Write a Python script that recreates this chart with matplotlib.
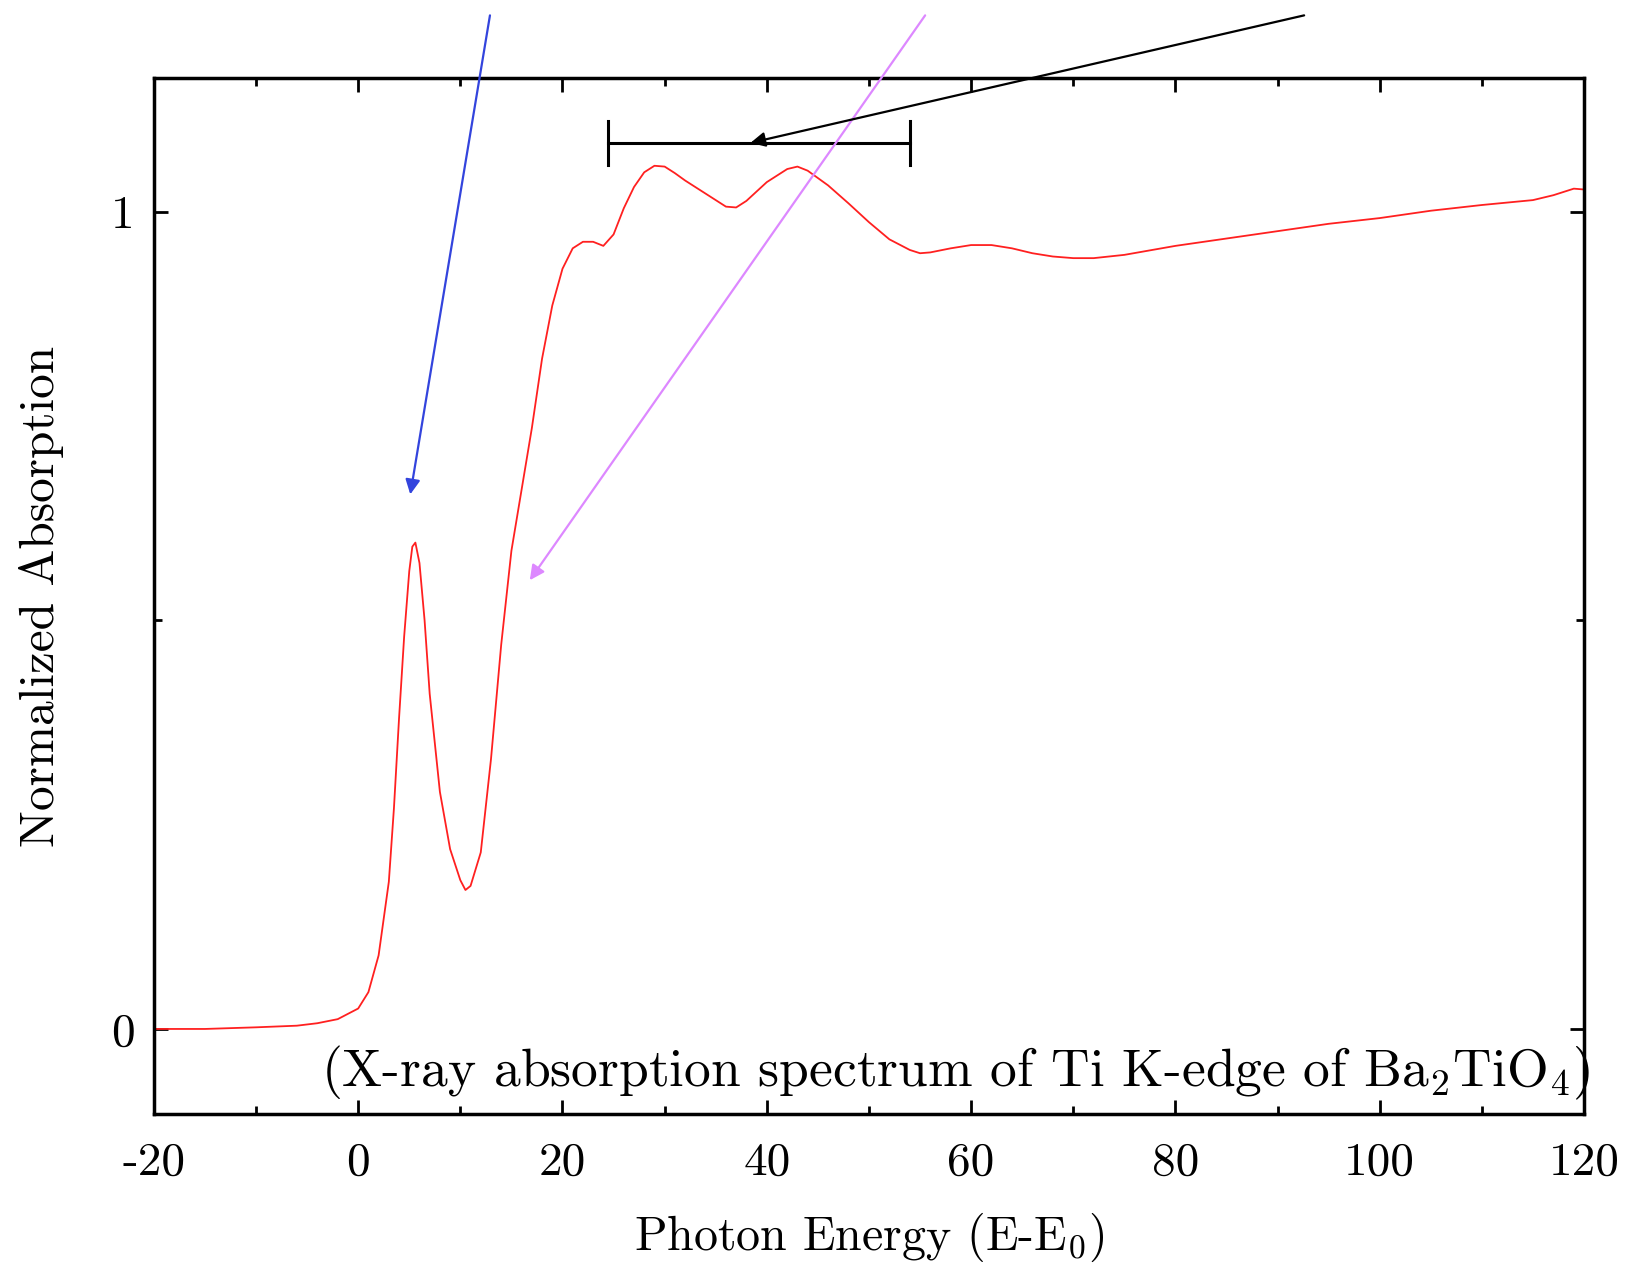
import numpy as np
import matplotlib
matplotlib.use("Agg")
import matplotlib.pyplot as plt
from matplotlib.ticker import MultipleLocator, FuncFormatter

plt.rcParams['font.family'] = ['cmr10', 'DejaVu Serif']
plt.rcParams['mathtext.fontset'] = 'cm'
plt.rcParams['axes.unicode_minus'] = False

# Ti K-edge XANES of Ba2TiO4
energy = [-20, -15, -10, -6, -4, -2, 0, 1, 2, 3, 3.5, 4.0, 4.5, 5.0, 5.3, 5.6,
          6.0, 6.5, 7, 8, 9, 10, 10.5, 11, 12, 13, 14, 15, 16, 17, 18, 19, 20,
          21, 22, 23, 24, 25, 26, 27, 28, 29, 30, 31, 32, 34, 36, 37, 38, 40,
          42, 43, 44, 46, 48, 50, 52, 54, 55, 56, 58, 60, 62, 64, 66, 68,
          70, 72, 75, 80, 85, 90, 95, 100, 105, 110, 115, 117, 119, 120]
absorb = [0.0, 0.0, 0.002, 0.004, 0.007, 0.012, 0.025, 0.045, 0.09, 0.18,
          0.27, 0.38, 0.48, 0.56, 0.590, 0.595, 0.57, 0.50, 0.41, 0.29, 0.22,
          0.182, 0.170, 0.175, 0.216, 0.33, 0.47, 0.585, 0.66, 0.735, 0.82,
          0.885, 0.930, 0.955, 0.963, 0.963, 0.958, 0.972, 1.004, 1.03, 1.048,
          1.056, 1.055, 1.047, 1.038, 1.022, 1.006, 1.005, 1.013, 1.036, 1.052,
          1.055, 1.05, 1.032, 1.01, 0.987, 0.966, 0.953, 0.949, 0.95, 0.955,
          0.959, 0.959, 0.955, 0.949, 0.945, 0.943, 0.943, 0.947, 0.958,
          0.967, 0.976, 0.985, 0.992, 1.001, 1.008, 1.014, 1.02, 1.028, 1.027]

# EXAFS range bar
bar_x = [24.5, 54.0]
bar_y = 1.084

# annotation arrows: (tail, head, colour)
arrows = [((12.9, 1.24), (5.1, 0.654), '#3344dd'),
          ((55.5, 1.24), (16.8, 0.549), '#dd88ff'),
          ((92.6, 1.24), (38.4, 1.084), 'black')]

fig = plt.figure(figsize=(16.3, 12.63), dpi=100)
ax = fig.add_axes([0.0944, 0.118, 0.8774, 0.820])

ax.plot(energy, absorb, color='#ff2020', lw=1.3)

ax.plot(bar_x, [bar_y, bar_y], color='black', lw=2.2)
for bx in bar_x:
    ax.plot([bx, bx], [bar_y - 0.027, bar_y + 0.027], color='black', lw=2.2)

for tail, head, col in arrows:
    ax.annotate('', xy=head, xytext=tail, annotation_clip=False,
                arrowprops=dict(arrowstyle='-|>', color=col, lw=1.6,
                                mutation_scale=22, shrinkA=0, shrinkB=0))

ax.text(120.6, -0.07, r'(X-ray absorption spectrum of Ti K-edge of Ba$_2$TiO$_4$)',
        fontsize=38.5, ha='right', va='baseline', clip_on=False)

ax.set_xlim(-20, 120)
ax.set_ylim(-0.104, 1.163)
ax.xaxis.set_major_locator(MultipleLocator(20))
ax.xaxis.set_minor_locator(MultipleLocator(10))
ax.xaxis.set_major_formatter(FuncFormatter(lambda v, p: '%d' % round(v)))
ax.set_yticks([0, 1])
ax.set_yticklabels(['0', '1'])
ax.yaxis.set_minor_locator(MultipleLocator(0.5))
ax.tick_params(which='both', direction='in', top=True, right=True,
               labelsize=34, width=2)
ax.tick_params(which='major', length=10)
ax.tick_params(axis='x', which='major', pad=20)
ax.tick_params(axis='y', which='major', pad=14)
ax.tick_params(which='minor', length=6)
for sp in ax.spines.values():
    sp.set_linewidth(2.5)

ax.set_xlabel(r'Photon Energy (E-E$_0$)', fontsize=34.5, labelpad=20)
ax.set_ylabel('Normalized Absorption', fontsize=35.5, labelpad=34)

fig.savefig('out.png', dpi=100)
